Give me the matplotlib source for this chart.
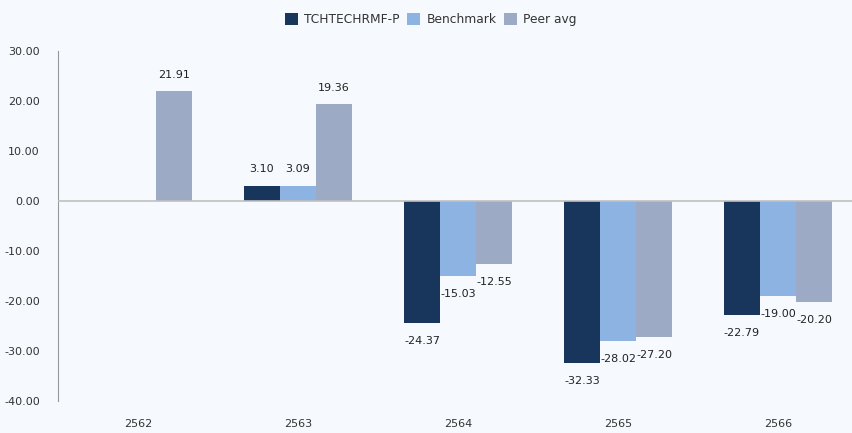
import matplotlib
matplotlib.use('Agg')
from matplotlib import pyplot as plt
import numpy as np

years = ['2562', '2563', '2564', '2565', '2566']
fund = [np.nan, 3.10, -24.37, -32.33, -22.79]
benchmark = [np.nan, 3.09, -15.03, -28.02, -19.00]
peer_avg = [21.91, 19.36, -12.55, -27.20, -20.20]
series_names = ['TCHTECHRMF-P', 'Benchmark', 'Peer avg']
y_ticks = [30, 20, 10, 0, -10, -20, -30, -40]

colors = ['#18355c', '#8db3e2', '#9caac6']
bg = '#f6f9fd'

fig = plt.figure(figsize=(8.53, 4.33), dpi=100, facecolor=bg)
ax = fig.add_axes([58/853, 32/433, 795/853, 350/433], facecolor=bg)

x = np.arange(len(years))
width = 0.225
all_series = [fund, benchmark, peer_avg]
for i, (vals, name) in enumerate(zip(all_series, series_names)):
    pos = x + (i - 1) * width
    bars = ax.bar(pos, np.nan_to_num(vals), width, color=colors[i], label=name)
    for p, v in zip(pos, vals):
        if np.isnan(v):
            continue
        if v >= 0:
            ax.annotate('%.2f' % v, (p, v), xytext=(0, 12), textcoords='offset points',
                        ha='center', va='center', fontsize=8, color='#222222')
        else:
            ax.annotate('%.2f' % v, (p, v), xytext=(0, -13), textcoords='offset points',
                        ha='center', va='center', fontsize=8, color='#222222')

ax.axhline(0, color='#c0c0c0', linewidth=1.2, zorder=3)
ax.set_ylim(-40, 30)
ax.set_xlim(-0.5, -0.5 + 795/160)
ax.set_yticks(y_ticks)
ax.set_yticklabels(['%.2f' % t for t in y_ticks])
ax.set_xticks(x)
ax.set_xticklabels(years)
ax.tick_params(axis='y', length=0, pad=13, labelsize=8, labelcolor='#333333')
ax.tick_params(axis='x', length=0, pad=13, labelsize=8, labelcolor='#333333')

for s in ['top', 'right', 'bottom']:
    ax.spines[s].set_visible(False)
ax.spines['left'].set_color('#999999')
ax.spines['left'].set_linewidth(0.8)

fig.legend(loc='upper center', bbox_to_anchor=(0.505, 0.995), ncol=3, frameon=False,
           fontsize=8.8, handlelength=1.1, handleheight=1.1, handletextpad=0.5,
           columnspacing=0.6, labelcolor='#333333')

plt.savefig('out.png', dpi=100, facecolor=bg)
